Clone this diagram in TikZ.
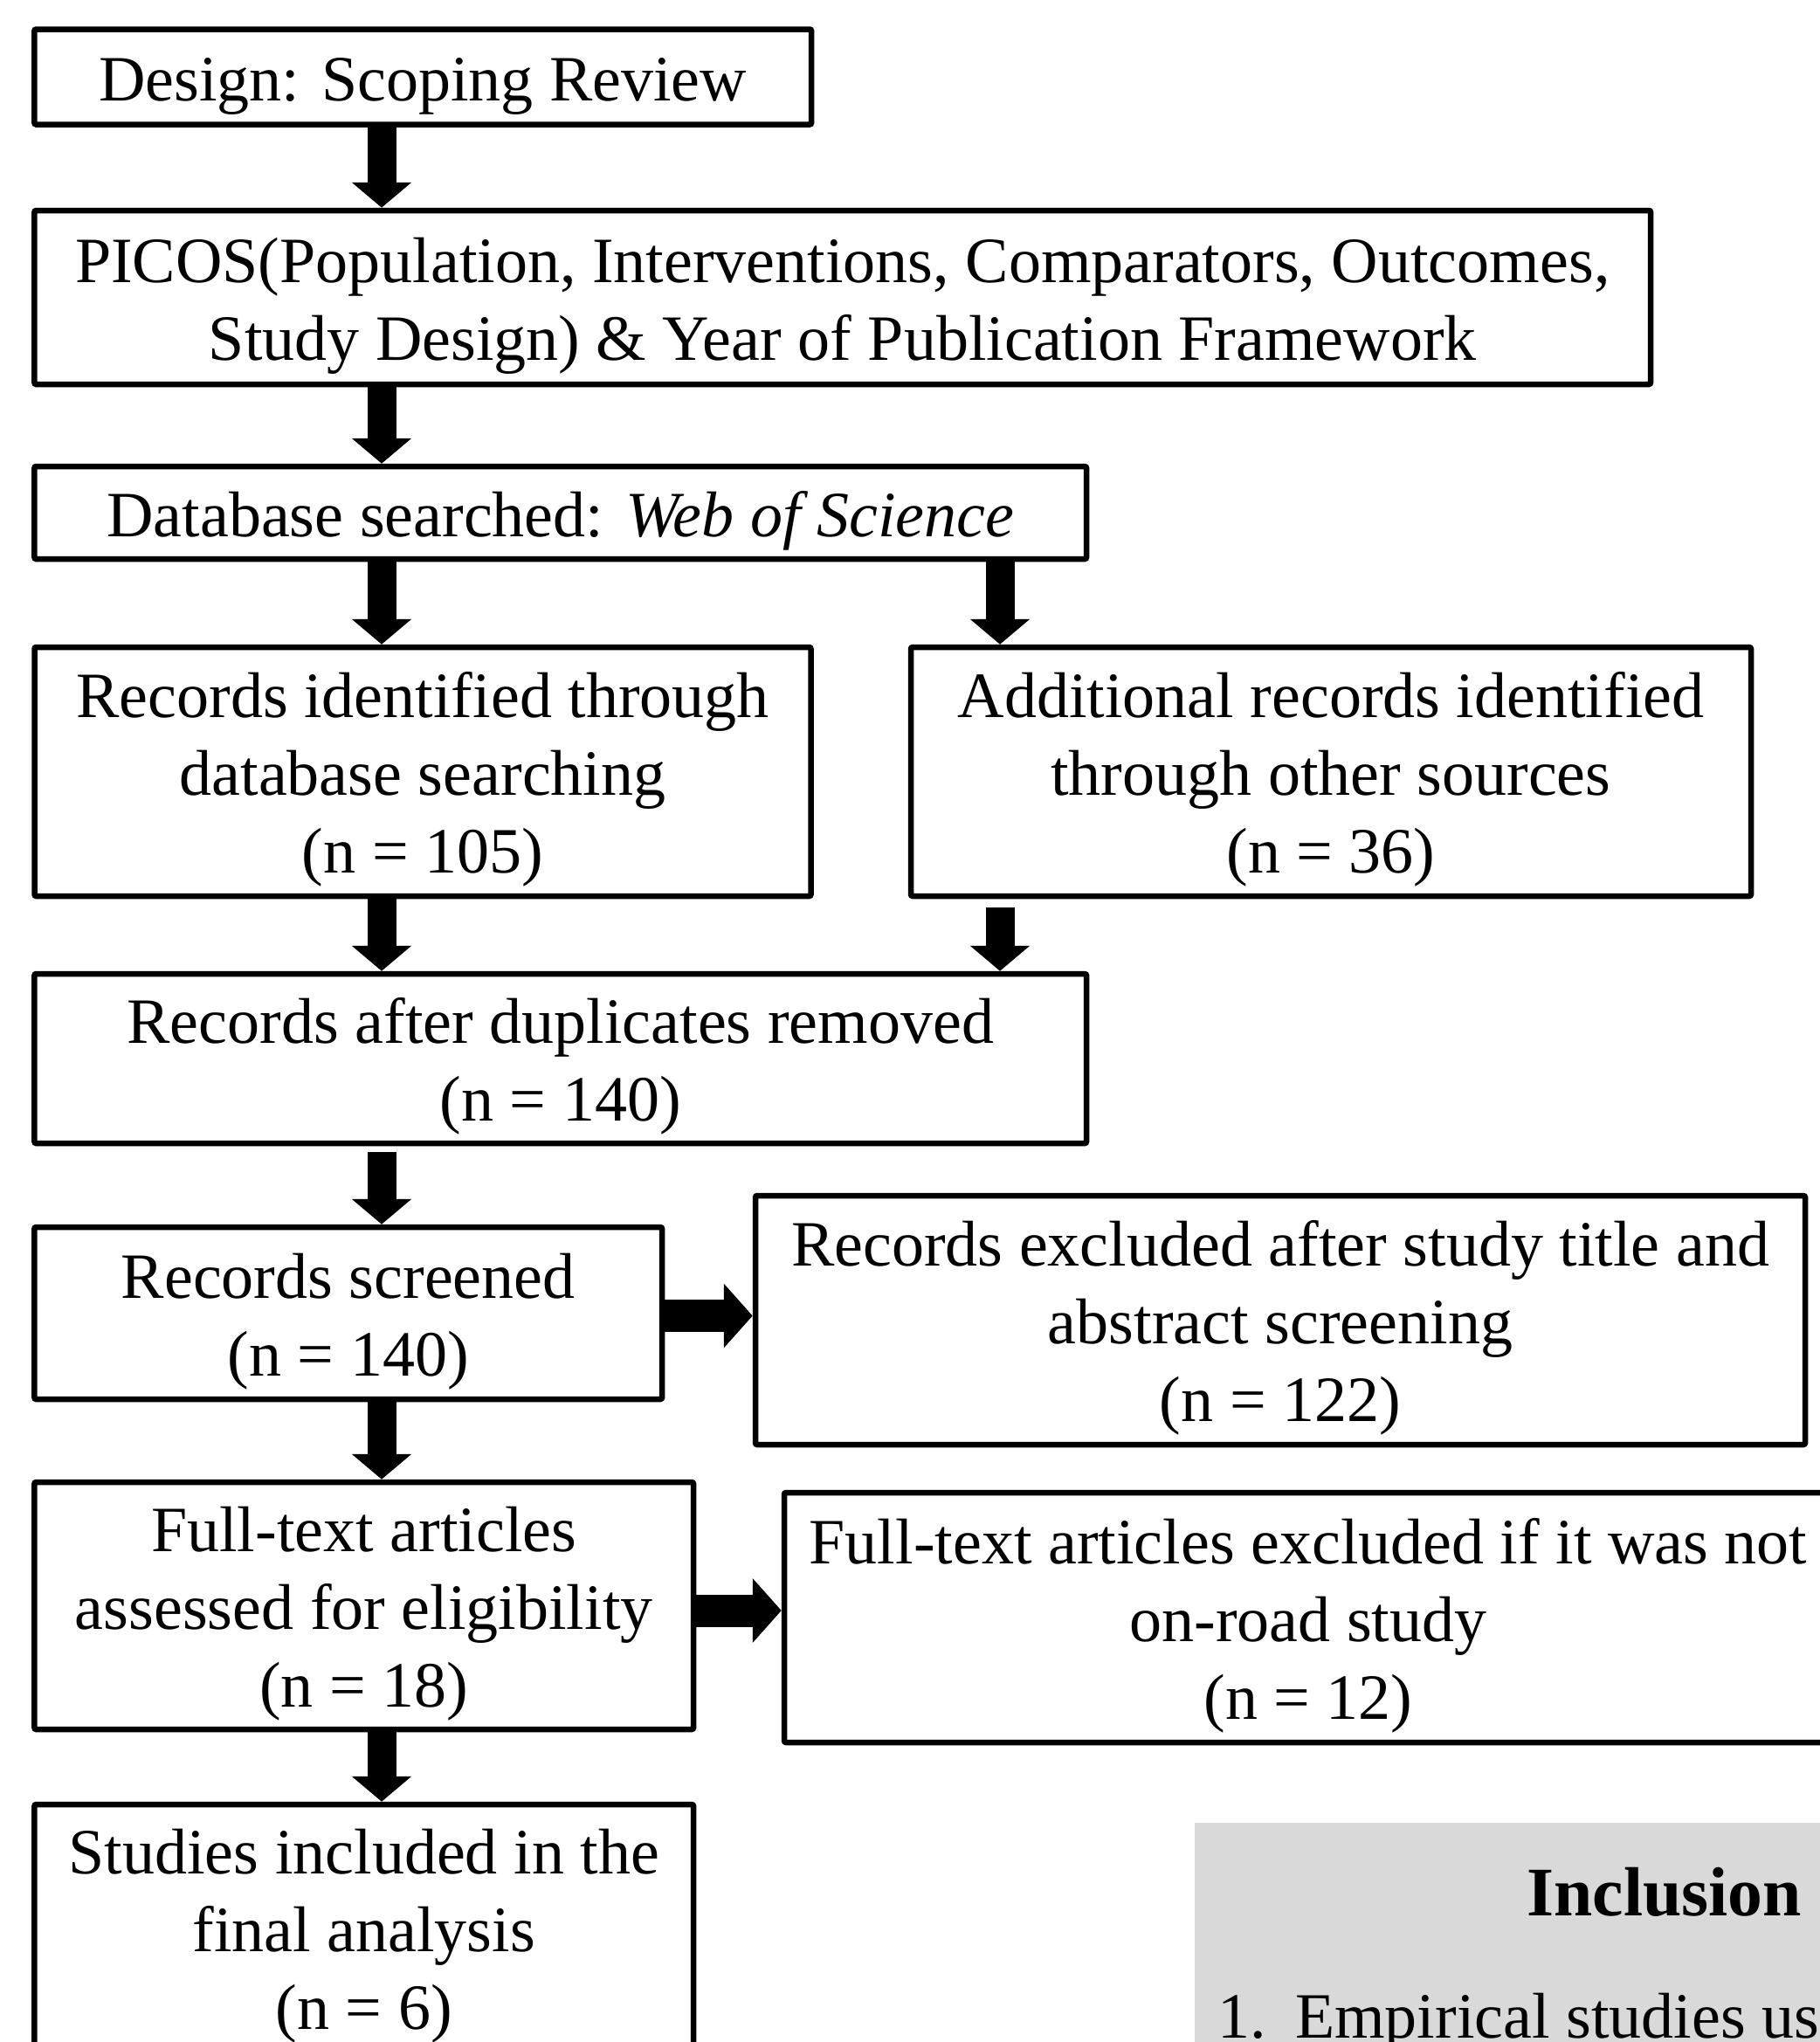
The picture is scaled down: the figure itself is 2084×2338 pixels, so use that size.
\documentclass[tikz,border=0pt]{standalone}
\usepackage{fontspec}
\setmainfont{Liberation Serif}
\usetikzlibrary{arrows.meta}

\definecolor{critgray}{HTML}{D9D9D9}
% pushes box text a little down
\newcommand{\boxstrut}{\rule{0pt}{21pt}}

\begin{document}
\begin{tikzpicture}[x=0.3pt,y=0.3pt,yscale=-1,
    box/.style={draw, line width=1.95pt, rounded corners=0.6pt, inner sep=0pt, align=center,
      font=\fontsize{22.2}{26.7}\selectfont},
    downarrow/.style={line width=9.9pt, -{Triangle[width=20.1pt,length=8.7pt]}},
    rightarrow/.style={line width=11.1pt, -{Triangle[width=21.6pt,length=9.9pt]}}]
        \useasboundingbox (0,0) rectangle (2084,2338);
        \clip (0,0) rectangle (2084,2338);

        % arrow columns
        \coordinate (colL) at (437,0);
        \coordinate (colR) at (1145,0);

        % Box: design
        \node [box, minimum width=266.9pt, minimum height=32.7pt] (design) at (484.25,88) {\boxstrut Design: Scoping Review};
        % Box: PICOS
        \node [box, minimum width=555.2pt, minimum height=59.7pt] (picos) at (964.75,340.5) {\boxstrut PICOS(Population, Interventions, Comparators, Outcomes,\\ Study Design) \& Year of Publication Framework};
        % Box: database
        \node [box, minimum width=361.4pt, minimum height=31.8pt] (db) at (641.75,587) {\boxstrut Database searched: \textit{Web of Science}};
        % Box: records identified
        \node [box, minimum width=266.7pt, minimum height=85.5pt] (ident) at (484,883.5) {\boxstrut Records identified through\\ database searching\\ (n = 105)};
        % Box: additional records
        \node [box, minimum width=288.6pt, minimum height=85.5pt] (addl) at (1524,883.5) {\boxstrut Additional records identified\\ through other sources\\ (n = 36)};
        % Box: duplicates removed
        \node [box, minimum width=361.4pt, minimum height=58.2pt] (dedup) at (641.75,1212) {\boxstrut Records after duplicates removed\\ (n = 140)};
        % Box: screened
        \node [box, minimum width=215.6pt, minimum height=59.1pt] (screen) at (398.75,1503.5) {\boxstrut Records screened\\ (n = 140)};
        % Box: excluded after screening
        \node [box, minimum width=360.6pt, minimum height=85.5pt] (excl) at (1466,1511.5) {\boxstrut Records excluded after study title and\\ abstract screening\\ (n = 122)};
        % Box: full-text assessed
        \node [box, minimum width=226.4pt, minimum height=84.9pt] (full) at (416.75,1838.5) {\boxstrut Full-text articles\\ assessed for eligibility\\ (n = 18)};
        % Box: full-text excluded
        \node [box, minimum width=360pt, minimum height=85.8pt] (ftex) at (1498,1852) {\boxstrut Full-text articles excluded if it was not\\ on-road study\\ (n = 12)};
        % Box: included studies
        \node [box, minimum width=226.4pt, minimum height=84.9pt] (incl) at (416.75,2207.5) {\boxstrut Studies included in the\\ final analysis\\ (n = 6)};

        % Shape: criteria panel
        \node [fill=critgray, inner sep=0pt, minimum width=225pt, minimum height=90pt, anchor=north west] (crit) at (1367,2086) {};
        % Text Node
        \node [anchor=base west, inner sep=0pt, font=\fontsize{23.9}{28}\selectfont\bfseries] (crithead) at (1748,2193) {Inclusion};
        % Text Node
        \node [anchor=base west, inner sep=0pt, font=\fontsize{22.2}{26.7}\selectfont] (crit1) at (1394,2333) {1.\hspace{9.9pt}Empirical studies us};

        % Arrows down, left column
        \draw [downarrow] (design.south -| colL) -- (picos.north -| colL);
        \draw [downarrow] (picos.south -| colL) -- (db.north -| colL);
        \draw [downarrow] (db.south -| colL) -- (ident.north -| colL);
        \draw [downarrow] (ident.south -| colL) -- (dedup.north -| colL);
        \draw [downarrow, shorten <=2pt] (dedup.south -| colL) -- (screen.north -| colL);
        \draw [downarrow] (screen.south -| colL) -- (full.north -| colL);
        \draw [downarrow] (full.south -| colL) -- (incl.north -| colL);
        % Arrows down, right column
        \draw [downarrow] (db.south -| colR) -- (addl.north -| colR);
        \draw [downarrow, shorten <=3pt] (addl.south -| colR) -- (dedup.north -| colR);
        % Arrows right
        \draw [rightarrow] ([yshift=-1.5pt]screen.east |- excl.west) -- ([yshift=-1.5pt]excl.west);
        \draw [rightarrow] ([yshift=-2.4pt]full.east |- ftex.west) -- ([yshift=-2.4pt]ftex.west);

    \end{tikzpicture}
\end{document}
